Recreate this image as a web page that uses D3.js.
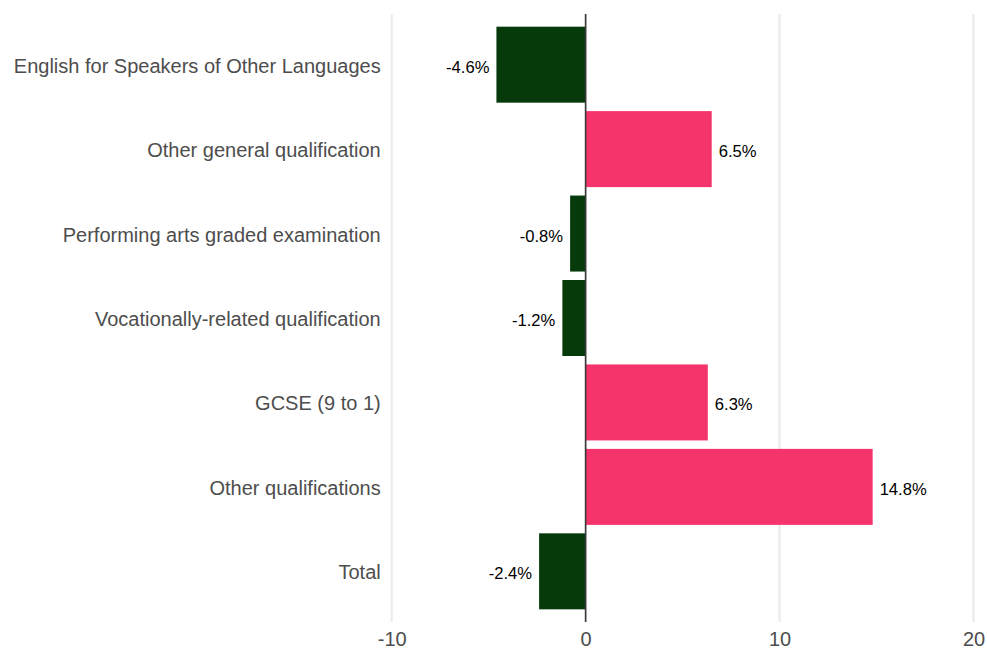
<!DOCTYPE html>
<html>
<head>
<meta charset="utf-8">
<script src="https://d3js.org/d3.v7.min.js"></script>
<style>
body { margin: 0; background: #fff; }
.chart { font-family: 'Liberation Sans', Arial, sans-serif; }
</style>
</head>
<body>
<div class="chart"></div>
<script>
// data
const categories = ["English for Speakers of Other Languages", "Other general qualification",
  "Performing arts graded examination", "Vocationally-related qualification",
  "GCSE (9 to 1)", "Other qualifications", "Total"];
const changes = [-4.6, 6.5, -0.8, -1.2, 6.3, 14.8, -2.4];
const xTicks = [-10, 0, 10, 20];

const width = 987, height = 651;
const panelLeft = 391.7, panelRight = 973.5, panelTop = 14, panelBottom = 622;

const svg = d3.select(".chart").append("svg")
    .attr("width", width)
    .attr("height", height);

const x = d3.scaleLinear().domain([-10, 20]).range([panelLeft, panelRight]);
const y = d3.scaleBand().domain(categories).range([panelTop, panelBottom])
    .paddingInner(0.1).paddingOuter(0.15);

// vertical gridlines
svg.append("g").selectAll("line")
    .data(xTicks)
    .enter().append("line")
    .attr("x1", d => x(d)).attr("x2", d => x(d))
    .attr("y1", panelTop).attr("y2", panelBottom)
    .attr("stroke", "#ebebeb")
    .attr("stroke-width", 2.2);

const rows = categories.map((c, i) => ({ name: c, value: changes[i] }));

svg.append("g").selectAll("rect")
    .data(rows)
    .enter().append("rect")
    .attr("x", d => x(Math.min(0, d.value)))
    .attr("y", d => y(d.name))
    .attr("width", d => Math.abs(x(d.value) - x(0)))
    .attr("height", y.bandwidth())
    .attr("fill", d => d.value < 0 ? "#063a0b" : "#f5346b");

// zero line
svg.append("line")
    .attr("x1", x(0)).attr("x2", x(0))
    .attr("y1", panelTop).attr("y2", panelBottom)
    .attr("stroke", "#3a3a3a")
    .attr("stroke-width", 1.6);

// value labels
svg.append("g").selectAll("text")
    .data(rows)
    .enter().append("text")
    .attr("x", d => d.value < 0 ? x(d.value) - 7 : x(d.value) + 7)
    .attr("y", d => y(d.name) + y.bandwidth() / 2)
    .attr("dy", "0.48em")
    .attr("text-anchor", d => d.value < 0 ? "end" : "start")
    .style("font-size", "16.6px")
    .style("fill", "#000")
    .text(d => d.value.toFixed(1) + "%");

// category labels
const yAxis = d3.axisLeft(y).tickSize(0).tickPadding(11);
const gy = svg.append("g")
    .attr("transform", `translate(${panelLeft},0)`)
    .call(yAxis);
gy.select(".domain").remove();
gy.selectAll("text")
    .attr("dy", "0.4em")
    .style("font-family", "'Liberation Sans', Arial, sans-serif")
    .style("font-size", "20px")
    .style("fill", "#4d4d4d");

// x axis tick labels
const xAxis = d3.axisBottom(x).tickValues(xTicks).tickSize(0).tickPadding(10)
    .tickFormat(d => String(d));
const gx = svg.append("g")
    .attr("transform", `translate(0,${panelBottom})`)
    .call(xAxis);
gx.select(".domain").remove();
gx.selectAll("text")
    .style("font-family", "'Liberation Sans', Arial, sans-serif")
    .style("font-size", "20px")
    .style("fill", "#4d4d4d");
</script>
</body>
</html>
